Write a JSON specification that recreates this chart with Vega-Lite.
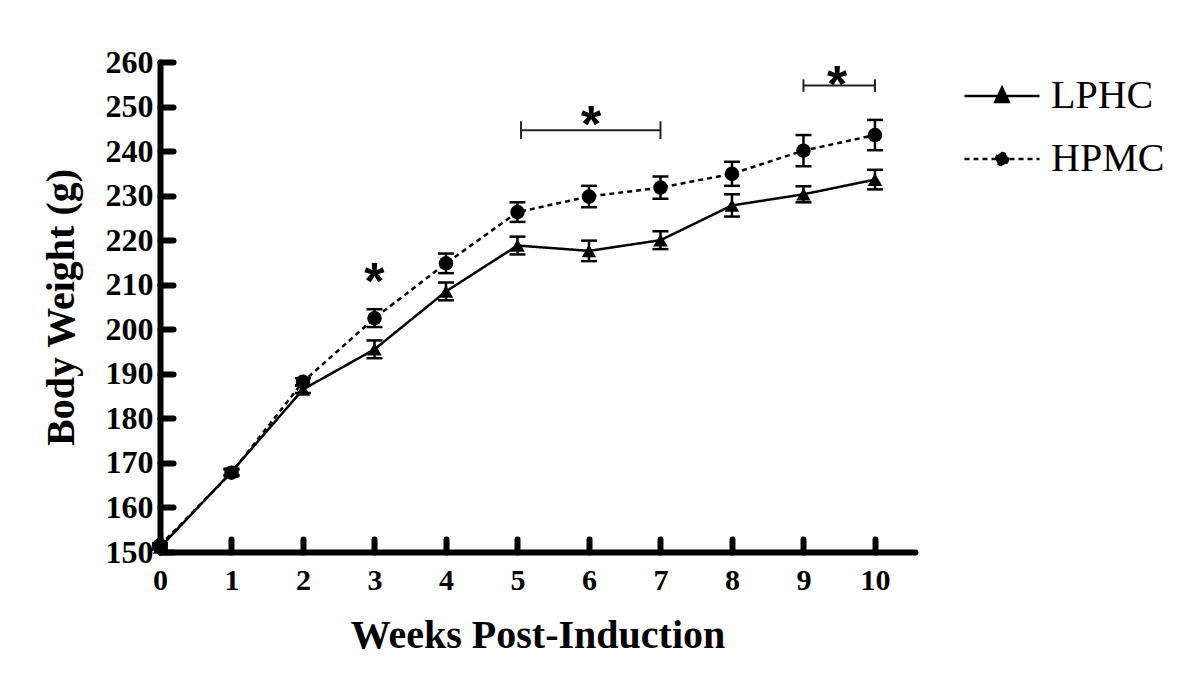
{
  "$schema": "https://vega.github.io/schema/vega-lite/v6.json",
  "width": 755,
  "height": 490,
  "autosize": "none",
  "padding": {"left": 160, "top": 62, "right": 285, "bottom": 140},
  "background": "white",
  "config": {
    "view": {"stroke": null},
    "axis": {
      "domainColor": "black",
      "domainWidth": 6,
      "domainCap": "round",
      "tickColor": "black",
      "tickWidth": 6,
      "tickCap": "round",
      "tickSize": -13,
      "labelFont": "Liberation Serif",
      "labelFontWeight": "bold",
      "labelColor": "black",
      "labelFlush": false,
      "labelOverlap": false,
      "grid": false,
      "titleFont": "Liberation Serif",
      "titleFontWeight": "bold",
      "titleColor": "black"
    }
  },
  "datasets": {
    "series": [
      {"week": 0, "group": "LPHC", "marker": "tri", "bw": 151.0, "lo": 150.5, "hi": 151.5},
      {"week": 1, "group": "LPHC", "marker": "tri", "bw": 168.0, "lo": 167.3, "hi": 168.7},
      {"week": 2, "group": "LPHC", "marker": "tri", "bw": 186.5, "lo": 185.7, "hi": 187.3},
      {"week": 3, "group": "LPHC", "marker": "tri", "bw": 195.5, "lo": 193.5, "hi": 197.5},
      {"week": 4, "group": "LPHC", "marker": "tri", "bw": 208.5, "lo": 206.5, "hi": 210.5},
      {"week": 5, "group": "LPHC", "marker": "tri", "bw": 218.8, "lo": 216.8, "hi": 220.8},
      {"week": 6, "group": "LPHC", "marker": "tri", "bw": 217.6, "lo": 215.3, "hi": 219.9},
      {"week": 7, "group": "LPHC", "marker": "tri", "bw": 220.0, "lo": 218.0, "hi": 222.0},
      {"week": 8, "group": "LPHC", "marker": "tri", "bw": 227.8, "lo": 225.3, "hi": 230.3},
      {"week": 9, "group": "LPHC", "marker": "tri", "bw": 230.3, "lo": 228.5, "hi": 232.1},
      {"week": 10, "group": "LPHC", "marker": "tri", "bw": 233.6, "lo": 231.4, "hi": 235.8},
      {"week": 0, "group": "HPMC", "marker": "dot", "bw": 151.5, "lo": 151.0, "hi": 152.0},
      {"week": 1, "group": "HPMC", "marker": "dot", "bw": 167.8, "lo": 167.1, "hi": 168.5},
      {"week": 2, "group": "HPMC", "marker": "dot", "bw": 188.2, "lo": 187.4, "hi": 189.0},
      {"week": 3, "group": "HPMC", "marker": "dot", "bw": 202.5, "lo": 200.5, "hi": 204.5},
      {"week": 4, "group": "HPMC", "marker": "dot", "bw": 214.8, "lo": 212.6, "hi": 217.0},
      {"week": 5, "group": "HPMC", "marker": "dot", "bw": 226.3, "lo": 224.1, "hi": 228.5},
      {"week": 6, "group": "HPMC", "marker": "dot", "bw": 229.8, "lo": 227.4, "hi": 232.2},
      {"week": 7, "group": "HPMC", "marker": "dot", "bw": 231.8, "lo": 229.3, "hi": 234.3},
      {"week": 8, "group": "HPMC", "marker": "dot", "bw": 234.9, "lo": 232.2, "hi": 237.6},
      {"week": 9, "group": "HPMC", "marker": "dot", "bw": 240.1, "lo": 236.6, "hi": 243.6},
      {"week": 10, "group": "HPMC", "marker": "dot", "bw": 243.6, "lo": 240.2, "hi": 247.0}
    ],
    "bars": [
      {"x": 5.05, "x2": 7, "y": 244.7},
      {"x": 9, "x2": 10, "y": 254.7}
    ],
    "caps": [
      {"x": 5.05, "y": 242.7, "y2": 246.7},
      {"x": 7, "y": 242.7, "y2": 246.7},
      {"x": 9, "y": 253.3, "y2": 256.1},
      {"x": 10, "y": 253.3, "y2": 256.1}
    ],
    "stars": [
      {"x": 3, "y": 213.5, "t": "*"},
      {"x": 6.03, "y": 248.8, "t": "*"},
      {"x": 9.47, "y": 257.8, "t": "*"}
    ]
  },
  "layer": [
    {
      "data": {"name": "series"},
      "mark": {"type": "line", "color": "black", "strokeWidth": 2.5},
      "encoding": {
        "x": {
          "field": "week", "type": "quantitative", "title": "Weeks Post-Induction",
          "scale": {"domain": [0, 10.56], "nice": false, "zero": false},
          "axis": {
            "values": [0, 1, 2, 3, 4, 5, 6, 7, 8, 9, 10],
            "format": "d",
            "labelFontSize": 30,
            "labelPadding": 26,
            "title": "Weeks Post-Induction",
            "titleFontSize": 40,
            "titlePadding": 20
          }
        },
        "y": {
          "field": "bw", "type": "quantitative", "title": "Body Weight (g)",
          "scale": {"domain": [150, 260], "nice": false, "zero": false},
          "axis": {
            "values": [150, 160, 170, 180, 190, 200, 210, 220, 230, 240, 250, 260],
            "format": "d",
            "labelFontSize": 32,
            "labelPadding": 20,
            "title": "Body Weight (g)",
            "titleFontSize": 40,
            "titlePadding": 24
          }
        },
        "detail": {"field": "group"},
        "strokeDash": {
          "field": "group", "type": "nominal",
          "scale": {"domain": ["LPHC", "HPMC"], "range": [[1, 0], [5, 4]]},
          "legend": {
            "orient": "none",
            "legendX": 803,
            "legendY": -5,
            "title": null,
            "symbolSize": 5625,
            "symbolStrokeWidth": 2.5,
            "symbolStrokeColor": "black",
            "labelFont": "Liberation Serif",
            "labelFontSize": 40,
            "labelColor": "black",
            "labelOffset": 10,
            "rowPadding": 4,
            "encoding": {
              "symbols": {
                "shape": {"value": {"expr": "datum.value === 'LPHC' ? 'M-1,0H1M0,-0.22L0.18,0.16L-0.18,0.16Z' : 'M-1,0H1M0.16,0A0.16,0.16,0,1,1,-0.16,0A0.16,0.16,0,1,1,0.16,0Z'"}},
                "fill": {"value": "black"},
                "stroke": {"value": "black"},
                "strokeWidth": {"value": 2.5},
                "fillOpacity": {"value": 1},
                "strokeOpacity": {"value": 1},
                "opacity": {"value": 1}
              }
            }
          }
        }
      }
    },
    {
      "data": {"name": "series"},
      "mark": {"type": "errorbar", "color": "black", "opacity": 1, "thickness": 2.5, "ticks": {"size": 16, "thickness": 2.5, "color": "black", "opacity": 1}, "rule": {"opacity": 1, "color": "black"}},
      "encoding": {
        "x": {"field": "week", "type": "quantitative", "title": "Weeks Post-Induction"},
        "y": {"field": "lo", "type": "quantitative", "title": "Body Weight (g)"},
        "y2": {"field": "hi"},
        "detail": {"field": "group"}
      }
    },
    {
      "data": {"name": "series"},
      "mark": {"type": "point", "filled": true, "color": "black", "opacity": 1, "size": 210},
      "encoding": {
        "x": {"field": "week", "type": "quantitative", "title": "Weeks Post-Induction"},
        "y": {"field": "bw", "type": "quantitative", "title": "Body Weight (g)"},
        "shape": {
          "field": "marker", "type": "nominal",
          "scale": {"domain": ["tri", "dot"], "range": ["triangle-up", "circle"]},
          "legend": null
        }
      }
    },
    {
      "data": {"name": "bars"},
      "mark": {"type": "rule", "color": "#222222", "strokeWidth": 2},
      "encoding": {
        "x": {"field": "x", "type": "quantitative"},
        "x2": {"field": "x2"},
        "y": {"field": "y", "type": "quantitative"}
      }
    },
    {
      "data": {"name": "caps"},
      "mark": {"type": "rule", "color": "#222222", "strokeWidth": 2},
      "encoding": {
        "x": {"field": "x", "type": "quantitative"},
        "y": {"field": "y", "type": "quantitative"},
        "y2": {"field": "y2"}
      }
    },
    {
      "data": {"name": "stars"},
      "mark": {"type": "text", "font": "Liberation Sans", "fontWeight": "bold", "fontSize": 52, "baseline": "alphabetic", "align": "center", "dy": 30, "color": "black"},
      "encoding": {
        "x": {"field": "x", "type": "quantitative"},
        "y": {"field": "y", "type": "quantitative"},
        "text": {"field": "t"}
      }
    }
  ]
}
